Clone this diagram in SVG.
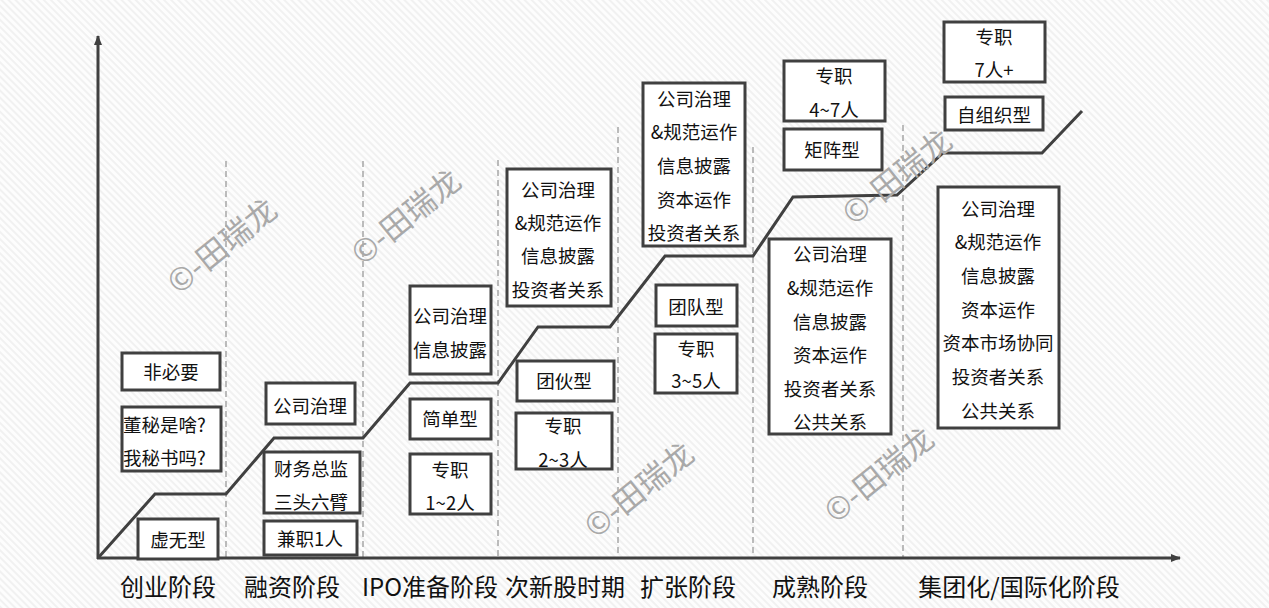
<svg xmlns="http://www.w3.org/2000/svg" width="1269" height="608" viewBox="0 0 1269 608">
<defs>
<pattern id="hatch" width="5" height="5" patternUnits="userSpaceOnUse" patternTransform="rotate(-45)">
<rect width="5" height="5" fill="#fdfdfd"/>
<line x1="1" y1="0" x2="1" y2="5" stroke="#eeeeee" stroke-width="1.6"/>
</pattern>
<marker id="arr" viewBox="0 0 10 10" refX="9" refY="5" markerWidth="10" markerHeight="10" markerUnits="userSpaceOnUse" orient="auto">
<path d="M0,1 L10,5 L0,9 Z" fill="#404040"/>
</marker>
<style>
.box{fill:#ffffff;stroke:#404040;stroke-width:3}
.t{font-family:"Noto Sans CJK SC","Microsoft YaHei",sans-serif;font-size:18.5px;fill:#111;text-anchor:middle}
.lbl{font-family:"Noto Sans CJK SC","Microsoft YaHei",sans-serif;font-size:24px;fill:#111;text-anchor:middle}
.dash{stroke:#a6a6a6;stroke-width:1.5;stroke-dasharray:6 4;fill:none}
.axis{stroke:#404040;stroke-width:3;fill:none}
.wm{font-family:"Noto Sans CJK SC","Microsoft YaHei",sans-serif;font-size:31px;fill:#a9a9a9;text-anchor:middle}
</style>
</defs>
<rect width="1269" height="608" fill="url(#hatch)"/>

<g id="gridlines">
<line class="dash" x1="226" y1="161" x2="226" y2="558"/>
<line class="dash" x1="363" y1="161" x2="363" y2="558"/>
<line class="dash" x1="498" y1="160" x2="498" y2="558"/>
<line class="dash" x1="618" y1="127" x2="618" y2="558"/>
<line class="dash" x1="753" y1="147" x2="753" y2="558"/>
<line class="dash" x1="903" y1="125" x2="903" y2="558"/>
</g>

<g id="connectors">
<line class="axis" x1="98" y1="559" x2="98" y2="36" marker-end="url(#arr)"/>
<line class="axis" x1="97" y1="558" x2="1180" y2="558" marker-end="url(#arr)"/>
<polyline class="axis" points="98,558 155,494 226,494 274,438 363,438 410,383 498,383 538,327 610,327 665,256 753,256 793,197 897,195 943,153 1042,153 1082,111"/>
</g>

<g id="n-feibiyao"><rect class="box" x="122" y="353" width="98" height="37"/><text class="t" x="171" y="379">非必要</text></g>
<g id="n-dongmi"><rect class="box" x="122" y="407" width="99" height="64"/><text class="t" x="123" y="431.5" style="text-anchor:start">董秘是啥?</text><text class="t" x="123" y="465" style="text-anchor:start">我秘书吗?</text></g>
<g id="n-xuwu"><rect class="box" x="138" y="519" width="80" height="40"/><text class="t" x="178" y="547">虚无型</text></g>

<g id="n-rz-gs"><rect class="box" x="266" y="383" width="89" height="41"/><text class="t" x="310" y="412.5">公司治理</text></g>
<g id="n-rz-cw"><rect class="box" x="264" y="452" width="96" height="61"/><text class="t" x="311" y="476">财务总监</text><text class="t" x="311" y="509">三头六臂</text></g>
<g id="n-rz-jz"><rect class="box" x="264" y="521" width="93" height="34"/><text class="t" x="310" y="546">兼职1人</text></g>

<g id="n-ipo-gs"><rect class="box" x="410" y="286" width="81" height="88"/><text class="t" x="450" y="322.5">公司治理</text><text class="t" x="450" y="357">信息披露</text></g>
<g id="n-ipo-jd"><rect class="box" x="410" y="399" width="81" height="40"/><text class="t" x="450" y="426">简单型</text></g>
<g id="n-ipo-zz"><rect class="box" x="410" y="454" width="81" height="60"/><text class="t" x="450" y="476.5">专职</text><text class="t" x="450" y="510">1~2人</text></g>

<g id="n-cx-gs"><rect class="box" x="507" y="169" width="104" height="137"/><text class="t" x="558" y="196.5">公司治理</text><text class="t" x="558" y="230">&amp;规范运作</text><text class="t" x="558" y="263">信息披露</text><text class="t" x="558" y="297">投资者关系</text></g>
<g id="n-cx-th"><rect class="box" x="517" y="361" width="97" height="40"/><text class="t" x="564" y="388">团伙型</text></g>
<g id="n-cx-zz"><rect class="box" x="516" y="413" width="96" height="56"/><text class="t" x="563" y="433">专职</text><text class="t" x="563" y="466.5">2~3人</text></g>

<g id="n-kz-gs"><rect class="box" x="643" y="83" width="102" height="163"/><text class="t" x="694" y="105.5">公司治理</text><text class="t" x="694" y="139">&amp;规范运作</text><text class="t" x="694" y="173">信息披露</text><text class="t" x="694" y="206.5">资本运作</text><text class="t" x="694" y="240">投资者关系</text></g>
<g id="n-kz-td"><rect class="box" x="656" y="285" width="81" height="41"/><text class="t" x="696" y="314">团队型</text></g>
<g id="n-kz-zz"><rect class="box" x="655" y="334" width="82" height="59"/><text class="t" x="696" y="356">专职</text><text class="t" x="696" y="388">3~5人</text></g>

<g id="n-cs-zz"><rect class="box" x="784" y="61" width="101" height="60"/><text class="t" x="834" y="82.5">专职</text><text class="t" x="834" y="116.5">4~7人</text></g>
<g id="n-cs-jz"><rect class="box" x="784" y="129" width="98" height="41"/><text class="t" x="832" y="156.5">矩阵型</text></g>
<g id="n-cs-gs"><rect class="box" x="769" y="239" width="122" height="195"/><text class="t" x="830" y="261">公司治理</text><text class="t" x="830" y="295">&amp;规范运作</text><text class="t" x="830" y="328.5">信息披露</text><text class="t" x="830" y="362">资本运作</text><text class="t" x="830" y="395.5">投资者关系</text><text class="t" x="830" y="429">公共关系</text></g>

<g id="n-jt-zz"><rect class="box" x="944" y="22" width="101" height="60"/><text class="t" x="994" y="44">专职</text><text class="t" x="994" y="77">7人+</text></g>
<g id="n-jt-zzz"><rect class="box" x="945" y="97" width="98" height="33"/><text class="t" x="994" y="121.5">自组织型</text></g>
<g id="n-jt-gs"><rect class="box" x="938" y="187" width="121" height="241"/><text class="t" x="998" y="216">公司治理</text><text class="t" x="998" y="249">&amp;规范运作</text><text class="t" x="998" y="283">信息披露</text><text class="t" x="998" y="316.5">资本运作</text><text class="t" x="998" y="350">资本市场协同</text><text class="t" x="998" y="384">投资者关系</text><text class="t" x="998" y="417.5">公共关系</text></g>

<g id="stage-labels">
<text class="lbl" x="168" y="596">创业阶段</text>
<text class="lbl" x="292" y="596">融资阶段</text>
<text class="lbl" x="430" y="596">IPO准备阶段</text>
<text class="lbl" x="565" y="596">次新股时期</text>
<text class="lbl" x="688" y="596">扩张阶段</text>
<text class="lbl" x="820" y="596">成熟阶段</text>
<text class="lbl" x="1019" y="596">集团化/国际化阶段</text>
</g>

<g id="watermarks">
<text class="wm" x="222" y="257" transform="rotate(-39 222 246)">©-田瑞龙</text>
<text class="wm" x="406" y="228" transform="rotate(-39 406 217)">©-田瑞龙</text>
<text class="wm" x="639" y="501" transform="rotate(-39 639 490)">©-田瑞龙</text>
<text class="wm" x="879" y="486" transform="rotate(-39 879 475)">©-田瑞龙</text>
<text class="wm" x="897" y="188" transform="rotate(-39 897 177)">©-田瑞龙</text>
</g>
</svg>
